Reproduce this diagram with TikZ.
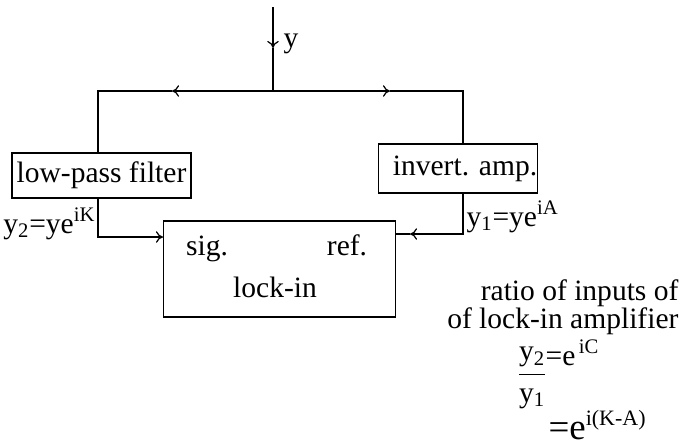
\documentclass[tikz,border=0pt]{standalone}
\usepackage{fontspec}
\setmainfont{Liberation Serif}
\usetikzlibrary{positioning, arrows.meta}

\begin{document}
\begin{tikzpicture}[x=0.02cm, y=-0.02cm, line width=0.7pt,
            >={To[length=4pt, width=6.5pt]},
            font=\fontsize{16.8}{20}\selectfont,
            block/.style={draw, rectangle, inner sep=0pt},
            lbl/.style={inner sep=0pt}]

            \useasboundingbox (0,0) rectangle (682,447);

            \node[block, minimum width=3.58cm, minimum height=0.9cm] (filter) at (101.5,175.5) {low-pass filter};
            \node[block, minimum width=3.16cm, minimum height=0.98cm] (amp) at (458,168.5) {\hspace{8pt}invert. amp.};
            \node[block, minimum width=4.64cm, minimum height=1.92cm] (lockin) at (279.5,269) {};

            \node[lbl, anchor=base] (sig) at (207,255) {sig.};
            \node[lbl, anchor=base] (ref) at (347,255) {ref.};
            \node[lbl, anchor=base] (li) at (275,297) {lock-in};

            \coordinate (ytop) at (273,7);
            \coordinate (yarr) at (273,48);
            \coordinate (split) at (273,91);
            \coordinate (larr) at (172,91);
            \coordinate (rarr) at (390,91);
            \coordinate (lcorner) at (98,91);
            \coordinate (rcorner) at (463,91);
            \coordinate (sigin) at (163,237);
            \coordinate (refarr) at (410,234);
            \coordinate (refin) at (395,234);

            \node[lbl, anchor=base west] (ylab) at (283,47) {y};

            \draw[->] (ytop) -- (yarr);
            \draw (yarr) -- (split);
            \draw[->] (split) -- (larr);
            \draw (larr) -- (lcorner) -- (lcorner |- filter.north);
            \draw[->] (split) -- (rarr);
            \draw (rarr) -- (rcorner) -- (rcorner |- amp.north);
            \draw[->] (lcorner |- filter.south) |- (sigin);
            \draw[->] (rcorner |- amp.south) |- (refarr);
            \draw (refarr) -- (refin);

            \node[lbl, anchor=base east] (ytwo) at (96,233) {y\textsubscript{2}=ye\textsuperscript{iK}};
            \node[lbl, anchor=base west] (yone) at (466,226) {y\textsubscript{1}=ye\textsuperscript{iA}};

            \node[lbl, anchor=base east] (ratio) at (679,300) {ratio of inputs of};
            \node[lbl, anchor=base east] (ratiob) at (679,328) {of lock-in amplifier};

            \node[lbl] (frac) at (532,378) {$\displaystyle\frac{\mbox{y\textsubscript{2}}}{\mbox{y\textsubscript{1}}}$};
            \node[lbl, anchor=base west] (eqc) at (545,365) {=e\textsuperscript{\,iC}};
            \node[lbl, anchor=base west] (eqka) at (548,439) {\fontsize{21}{24}\selectfont =e\textsuperscript{\fontsize{12.5}{13}\selectfont i(K-A)}};

        \end{tikzpicture}
\end{document}
